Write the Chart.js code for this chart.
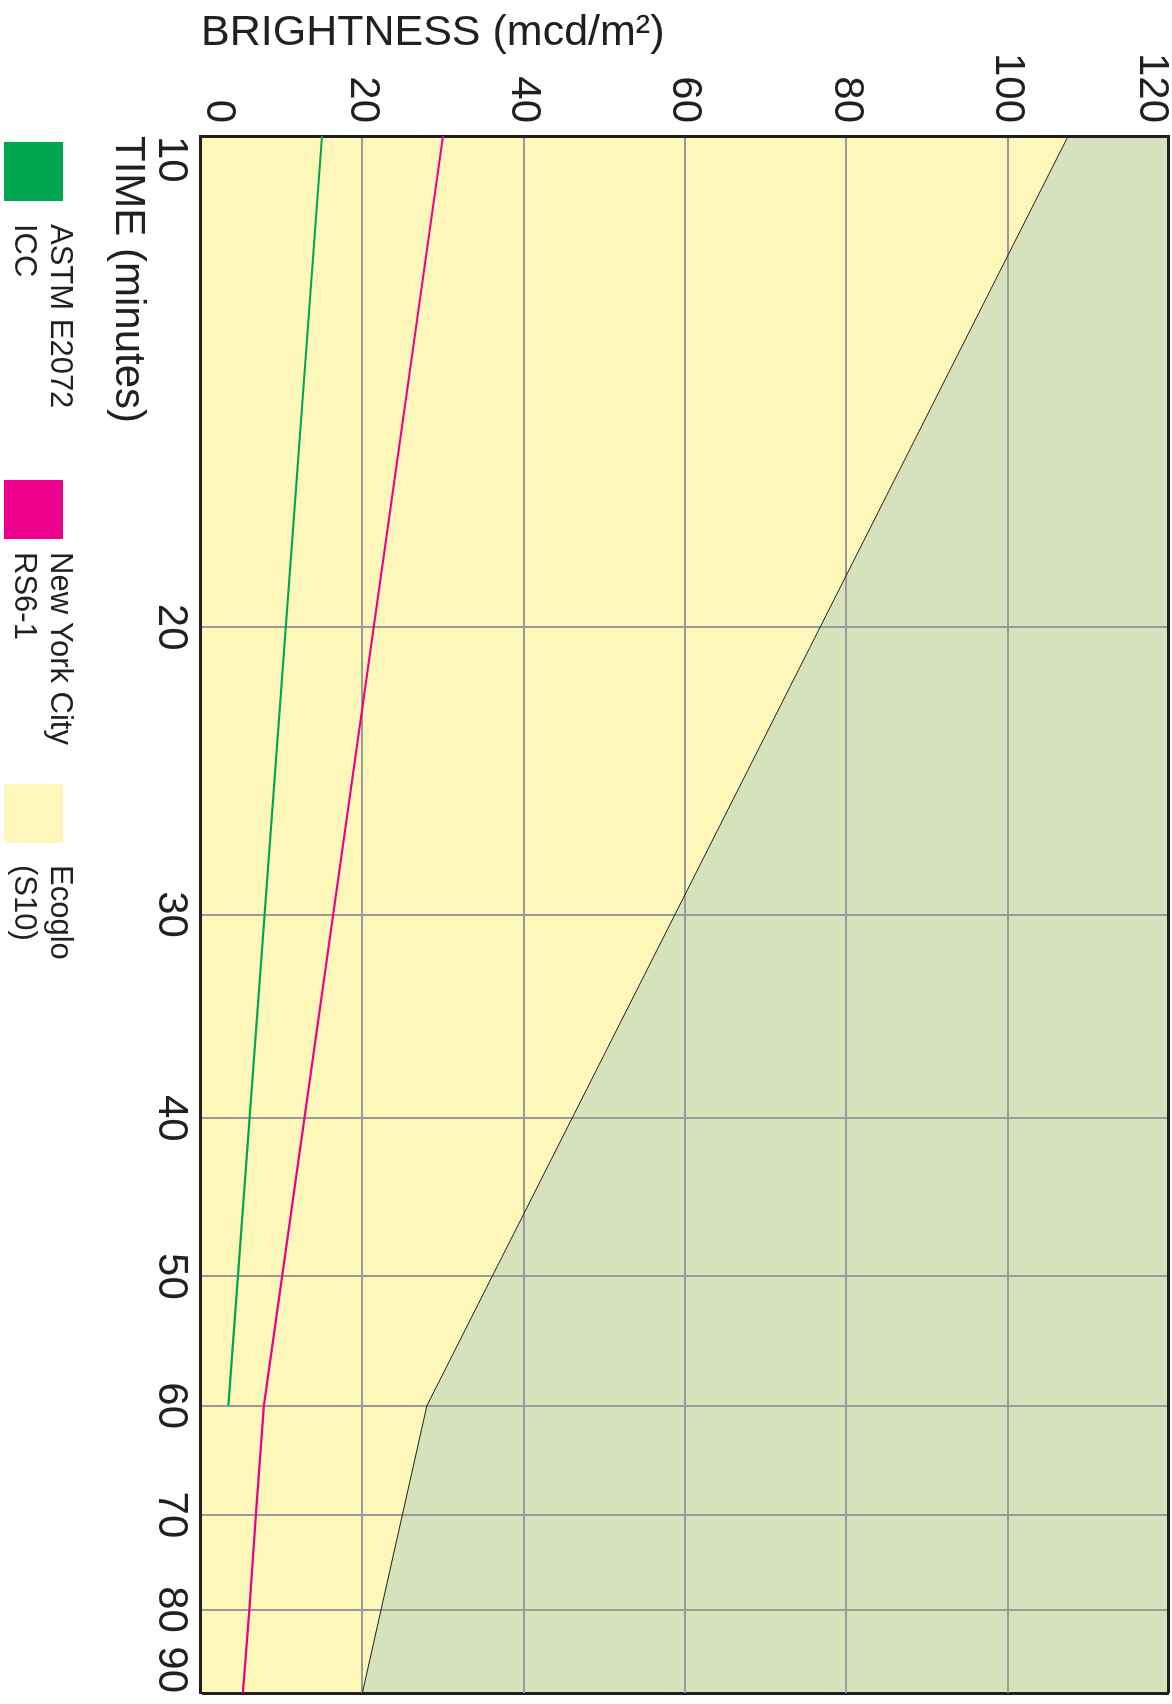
<!DOCTYPE html>
<html>
<head>
<meta charset="utf-8">
<title>Brightness over time</title>
<script src="https://cdn.jsdelivr.net/npm/chart.js@4.4.1/dist/chart.umd.min.js"></script>
<style>
  html, body { margin: 0; padding: 0; background: #fff; overflow: hidden; }
  /* the chart is drawn lying on its side, then turned a quarter clockwise */
  #stage {
    position: absolute; left: 0; top: 0;
    width: 1704px; height: 1172px;
    transform-origin: 0 0;
    transform: translate(1172px, 0) rotate(90deg);
  }
  #chart { position: absolute; left: 0; top: 0; }
  .swatch { position: absolute; top: 1109px; width: 59px; height: 59px; }
  .legend-text {
    position: absolute; top: 1093px;
    font: 31px/36px 'Liberation Sans', Arial, sans-serif;
    color: #231f20; white-space: nowrap;
  }
</style>
</head>
<body>
<div id="stage">
  <canvas id="chart" width="1704" height="1172"></canvas>
  <div id="legend"></div>
</div>
<script>
const FONT = "'Liberation Sans', Arial, sans-serif";

const timeTicks = [10, 20, 30, 40, 50, 60, 70, 80, 90];
const brightnessTicks = [0, 20, 40, 60, 80, 100, 120];

const astmTime = [10, 60];
const astmBrightness = [15, 3.4];

const nycTime = [10, 60, 70, 80, 90];
const nycBrightness = [30, 7.8, 6.8, 6, 5.2];

const ecogloTime = [10, 60, 90];
const ecogloBrightness = [107.5, 28, 20];

const seriesNames = [["ASTM E2072", "ICC"], ["New York City", "RS6-1"], ["Ecoglo", "(S10)"]];

const GREEN = "#00a54f";
const PINK = "#ec008c";
const YELLOW = "#fdf8b9";
const SAGE = "#d5e2bb";
const INK = "#231f20";
const GRID = "#9a9a9a";

// legend placement along the time axis (px)
const swatchLeft = [142, 480, 784];
const textLeft = [224, 552, 865];

function points(xs, ys) {
  return xs.map((x, i) => ({ x, y: ys[i] }));
}

const chart = new Chart(document.getElementById("chart"), {
  type: "line",
  data: {
    datasets: [
      {
        label: seriesNames[0].join(" "),
        data: points(astmTime, astmBrightness),
        borderColor: GREEN,
        backgroundColor: GREEN,
        borderWidth: 2.2,
        pointRadius: 0,
        fill: false
      },
      {
        label: seriesNames[1].join(" "),
        data: points(nycTime, nycBrightness),
        borderColor: PINK,
        backgroundColor: PINK,
        borderWidth: 2.2,
        pointRadius: 0,
        fill: false
      },
      {
        label: seriesNames[2].join(" "),
        data: points(ecogloTime, ecogloBrightness),
        borderColor: INK,
        backgroundColor: YELLOW,
        borderWidth: 1,
        pointRadius: 0,
        fill: "origin"
      },
      {
        // region above the Ecoglo curve
        label: "above",
        data: points(ecogloTime, ecogloBrightness),
        borderColor: "rgba(0,0,0,0)",
        backgroundColor: SAGE,
        pointRadius: 0,
        fill: "end"
      }
    ]
  },
  options: {
    responsive: false,
    animation: false,
    layout: { padding: { top: 3, right: 11, bottom: 0, left: 0 } },
    plugins: {
      legend: { display: false },
      tooltip: { enabled: false },
      filler: { drawTime: "beforeDraw" }
    },
    scales: {
      x: {
        type: "logarithmic",
        min: 10,
        max: 90,
        afterBuildTicks: (scale) => {
          scale.ticks = timeTicks.map((v) => ({ value: v }));
        },
        afterFit: (scale) => {
          scale.height = 201;
          scale.paddingLeft = 0;
          scale.paddingRight = 0;
        },
        grid: {
          drawTicks: false,
          color: (ctx) => (ctx.tick && ctx.tick.value === 90 ? INK : GRID),
          lineWidth: (ctx) => (ctx.tick && ctx.tick.value === 90 ? 3 : 2)
        },
        border: { color: INK, width: 3 },
        ticks: {
          align: "inner",
          autoSkip: false,
          maxRotation: 0,
          padding: 5,
          color: INK,
          font: { family: FONT, size: 42 },
          callback: (value) => String(value)
        },
        title: {
          display: true,
          text: "TIME (minutes)",
          align: "start",
          color: INK,
          font: { family: FONT, size: 42 },
          padding: { top: 0, bottom: 102 }
        }
      },
      y: {
        type: "linear",
        min: 0,
        max: 120,
        afterBuildTicks: (scale) => {
          scale.ticks = brightnessTicks.map((v) => ({ value: v }));
        },
        afterFit: (scale) => {
          scale.width = 136;
          scale.paddingTop = 0;
          scale.paddingBottom = 0;
        },
        grid: {
          drawTicks: false,
          color: (ctx) => (ctx.tick && ctx.tick.value === 120 ? INK : GRID),
          lineWidth: (ctx) => (ctx.tick && ctx.tick.value === 120 ? 3 : 2)
        },
        border: { color: INK, width: 3 },
        ticks: {
          padding: 13,
          color: INK,
          font: { family: FONT, size: 42, lineHeight: 0.85 },
          // end labels sit inside the frame
          callback: (value, index, ticks) => {
            if (index === 0) return [String(value), ""];
            if (index === ticks.length - 1) return ["", String(value)];
            return String(value);
          }
        },
        title: {
          display: true,
          text: "BRIGHTNESS (mcd/m²)",
          align: "start",
          color: INK,
          font: { family: FONT, size: 43 },
          padding: { top: 7, bottom: 0 }
        }
      }
    }
  }
});

function renderLegend() {
  const legend = document.getElementById("legend");
  legend.innerHTML = "";
  chart.data.datasets.slice(0, 3).forEach((ds, i) => {
    const swatch = document.createElement("div");
    swatch.className = "swatch";
    swatch.style.left = swatchLeft[i] + "px";
    swatch.style.background = ds.fill ? ds.backgroundColor : ds.borderColor;

    const text = document.createElement("div");
    text.className = "legend-text";
    text.style.left = textLeft[i] + "px";
    seriesNames[i].forEach((line) => {
      const row = document.createElement("div");
      row.textContent = line;
      text.append(row);
    });

    legend.append(swatch, text);
  });
}

renderLegend();
</script>
</body>
</html>
